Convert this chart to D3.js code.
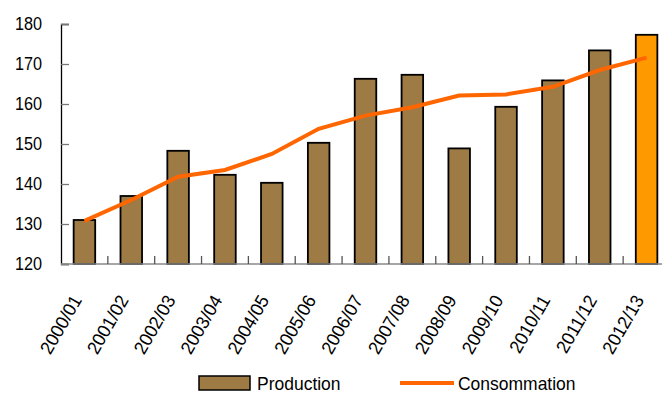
<!DOCTYPE html>
<html>
<head>
<meta charset="utf-8">
<script src="https://cdn.jsdelivr.net/npm/d3@7"></script>
<style>
  body { margin: 0; background: #fff; }
  svg { display: block; font-family: Arial, "Liberation Sans", sans-serif; }
</style>
</head>
<body>
<svg id="chart" width="662" height="394"></svg>
<script>
const seasons = [`2000/01`, `2001/02`, `2002/03`, `2003/04`, `2004/05`, `2005/06`, `2006/07`,
  `2007/08`, `2008/09`, `2009/10`, `2010/11`, `2011/12`, `2012/13`];
const production = [131, 137, 148.3, 142.3, 140.3, 150.3, 166.3, 167.3, 148.9, 159.3, 165.9, 173.4, 177.3];
const consommation = [130.8, 136, 141.8, 143.5, 147.5, 153.8, 157.1, 159.2, 162.1, 162.4, 164.3, 168.5, 171.6];
const yTicks = [120, 130, 140, 150, 160, 170, 180];

const svg = d3.select(`#chart`);
const mLeft = 61, mRight = 670, mTop = 24, mBottom = 264;

const x = d3.scaleBand().domain(seasons).range([mLeft, mRight]).paddingInner(0.54).paddingOuter(0.27);
const y = d3.scaleLinear().domain([120, 180]).range([mBottom, mTop]);
const step = x.step();

// squeeze text a little, the source font is narrower than Arial
const squeeze = (sel, k) => sel.each(function() {
  const w = this.getComputedTextLength();
  d3.select(this).attr(`textLength`, w * k).attr(`lengthAdjust`, `spacingAndGlyphs`);
});

// bars
svg.append(`g`)
  .selectAll(`rect`)
  .data(production)
  .enter().append(`rect`)
    .attr(`x`, (d, i) => x(seasons[i]))
    .attr(`y`, d => y(d))
    .attr(`width`, x.bandwidth())
    .attr(`height`, d => mBottom - y(d))
    .attr(`fill`, (d, i) => i === seasons.length - 1 ? `#ff9900` : `#9e7a45`)
    .attr(`stroke`, `#000`)
    .attr(`stroke-width`, 1.8);

// y axis
const yAxis = svg.append(`g`)
  .attr(`transform`, `translate(${mLeft},0)`)
  .call(d3.axisLeft(y).tickValues(yTicks).tickSize(-8).tickPadding(19));
yAxis.select(`.domain`).attr(`stroke`, `#000`).attr(`stroke-width`, 1.3);
yAxis.selectAll(`.tick line`).attr(`stroke`, `#777`).attr(`stroke-width`, 1.3);
yAxis.selectAll(`.tick text`)
  .attr(`font-size`, 18)
  .attr(`fill`, `#000`)
  .attr(`font-family`, `Arial, "Liberation Sans", sans-serif`)
  .call(squeeze, 0.9);

// x axis
const xg = svg.append(`g`);
xg.append(`line`)
  .attr(`x1`, mLeft).attr(`x2`, mRight)
  .attr(`y1`, mBottom).attr(`y2`, mBottom)
  .attr(`stroke`, `#888`).attr(`stroke-width`, 1.5);
xg.selectAll(`line.tick`)
  .data(seasons.slice(1))
  .enter().append(`line`)
    .attr(`class`, `tick`)
    .attr(`x1`, d => x(d) - step * 0.27)
    .attr(`x2`, d => x(d) - step * 0.27)
    .attr(`y1`, mBottom).attr(`y2`, mBottom - 8)
    .attr(`stroke`, `#555`).attr(`stroke-width`, 1.3);
xg.selectAll(`text`)
  .data(seasons)
  .enter().append(`text`)
    .attr(`transform`, d => `translate(${x(d) + x.bandwidth() / 2 - 2},${mBottom + 36}) rotate(-60)`)
    .attr(`text-anchor`, `end`)
    .attr(`font-size`, 18.5)
    .text(d => d)
    .call(squeeze, 0.96);

// line
const line = d3.line()
  .x((d, i) => x(seasons[i]) + x.bandwidth() / 2)
  .y(d => y(d));
svg.append(`path`)
  .datum(consommation)
  .attr(`d`, line)
  .attr(`fill`, `none`)
  .attr(`stroke`, `#ff6600`)
  .attr(`stroke-width`, 4);

// legend
const lg = svg.append(`g`).attr(`transform`, `translate(0,-3)`);
lg.append(`rect`)
  .attr(`x`, 199).attr(`y`, 379).attr(`width`, 51).attr(`height`, 14)
  .attr(`fill`, `#9e7a45`).attr(`stroke`, `#000`).attr(`stroke-width`, 1.5);
lg.append(`text`).attr(`x`, 257).attr(`y`, 393).attr(`font-size`, 19).text(`Production`).call(squeeze, 0.92);
lg.append(`line`)
  .attr(`x1`, 400).attr(`x2`, 454).attr(`y1`, 386).attr(`y2`, 386)
  .attr(`stroke`, `#ff6600`).attr(`stroke-width`, 4);
lg.append(`text`).attr(`x`, 458).attr(`y`, 393).attr(`font-size`, 19).text(`Consommation`).call(squeeze, 0.92);
</script>
</body>
</html>
